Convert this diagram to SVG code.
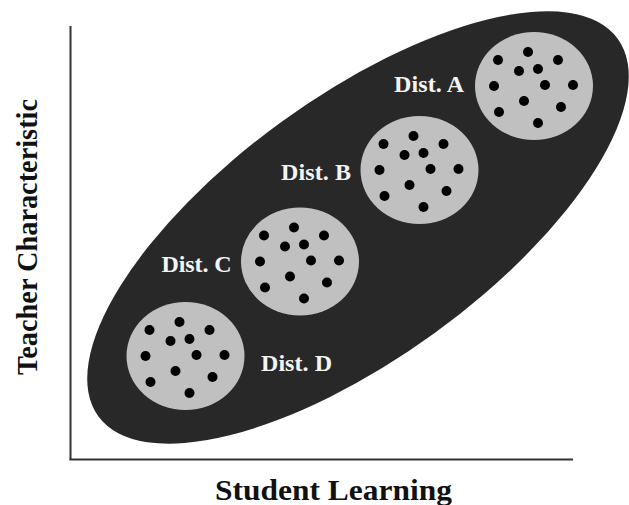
<svg xmlns="http://www.w3.org/2000/svg" width="629" height="505" viewBox="0 0 629 505">
  <style>
    .axis{stroke:#333;stroke-width:2;fill:none}
    .cloud{fill:#282828}
    .dist{fill:#c0c0c0}
    .dot{fill:#000}
    .lbl{font-family:"Liberation Serif","Times New Roman",serif;font-weight:bold;font-size:24px;fill:#f4f4f4}
    .ax{font-family:"Liberation Serif","Times New Roman",serif;font-weight:bold;font-size:30px;fill:#111}
  </style>
  <defs>
    <g id="dots">
      <circle class="dot" cx="-6" cy="-34" r="5"/>
      <circle class="dot" cx="-36" cy="-26" r="5"/>
      <circle class="dot" cx="24" cy="-26" r="5"/>
      <circle class="dot" cx="-15" cy="-15" r="5"/>
      <circle class="dot" cx="4" cy="-17" r="5"/>
      <circle class="dot" cx="-40" cy="0" r="5"/>
      <circle class="dot" cx="11" cy="-1" r="5"/>
      <circle class="dot" cx="39" cy="-1" r="5"/>
      <circle class="dot" cx="-10" cy="15" r="5"/>
      <circle class="dot" cx="-35" cy="26" r="5"/>
      <circle class="dot" cx="27" cy="21" r="5"/>
      <circle class="dot" cx="4" cy="37" r="5"/>
    </g>
  </defs>
  <rect width="629" height="505" fill="#fff"/>
  <g id="axes">
    <line class="axis" x1="70.5" y1="26" x2="70.5" y2="460"/>
    <line class="axis" x1="69.5" y1="459.5" x2="573" y2="459.5"/>
  </g>
  <g id="cloud">
    <ellipse class="cloud" cx="0" cy="0" rx="321" ry="130.5" transform="translate(358 227.5) rotate(-36)"/>
  </g>
  <g id="distA">
    <ellipse class="dist" cx="534" cy="86" rx="59" ry="54"/>
    <use href="#dots" transform="translate(534 86)"/>
    <text class="lbl" x="394" y="91.5" textLength="70">Dist. A</text>
  </g>
  <g id="distB">
    <ellipse class="dist" cx="419.5" cy="170" rx="59" ry="54"/>
    <use href="#dots" transform="translate(419.5 170)"/>
    <text class="lbl" x="281" y="179.5" textLength="70">Dist. B</text>
  </g>
  <g id="distC">
    <ellipse class="dist" cx="300" cy="261.5" rx="59" ry="54"/>
    <use href="#dots" transform="translate(300 261.5)"/>
    <text class="lbl" x="161.5" y="272" textLength="70">Dist. C</text>
  </g>
  <g id="distD">
    <ellipse class="dist" cx="185.5" cy="356" rx="59" ry="54"/>
    <use href="#dots" transform="translate(185.5 356)"/>
    <text class="lbl" x="261" y="370.5" textLength="71">Dist. D</text>
  </g>
  <g id="labels">
    <text class="ax" x="215" y="500" textLength="237" lengthAdjust="spacingAndGlyphs">Student Learning</text>
    <text class="ax" transform="translate(37 237) rotate(-90)" text-anchor="middle" textLength="276" lengthAdjust="spacingAndGlyphs">Teacher Characteristic</text>
  </g>
</svg>
